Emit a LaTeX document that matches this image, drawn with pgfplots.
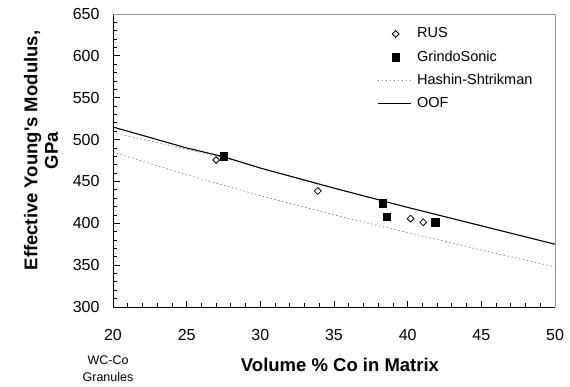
\documentclass[border=0pt]{standalone}
\usepackage{pgfplots}
\pgfplotsset{compat=1.18}
\usepackage{fontspec}
\setmainfont{Liberation Sans}
\definecolor{hsgray}{RGB}{128,128,128}
\definecolor{framegray}{RGB}{150,150,150}
\pgfplotsset{
  marklegend/.style={legend image code/.code={\draw[##1] plot coordinates {(18pt,0pt)};}},
  linelegend/.style={legend image code/.code={\draw[##1] (0pt,0pt) -- (33pt,0pt);}},
}
\begin{document}
\begin{tikzpicture}
\path[use as bounding box] (0,0) rectangle (570pt,386pt);
\begin{axis}[
  at={(113pt,79pt)}, anchor=south west,
  scale only axis, width=442pt, height=293pt,
  xmin=20, xmax=50, ymin=300, ymax=650,
  axis lines*=left,
  axis line style={black, line width=0.9pt},
  xtick={20,25,...,50}, ytick={300,350,...,650},
  minor x tick num=4, minor y tick num=4,
  tick align=inside,
  major tick length=6.5pt, minor tick length=4pt,
  tick style={black, line width=0.8pt},
  /pgf/number format/assume math mode=true,
  ticklabel style={font=\fontsize{16}{18}\selectfont},
  xticklabel style={yshift=-19pt},
  yticklabel style={xshift=-10pt},
  every axis y label/.style={at={(axis description cs:-0.163,0.534)}, rotate=90, anchor=center, align=center, font=\fontsize{18.5}{20.5}\selectfont\bfseries},
  every axis x label/.style={at={(axis description cs:0.5136,-0.198)}, anchor=center, font=\fontsize{18.5}{22}\selectfont\bfseries},
  ylabel={Effective Young\textquotesingle s Modulus,\\GPa},
  xlabel={Volume \% Co in Matrix},
  legend style={draw=none, fill=none, at={(axis description cs:0.597,0.9556)}, anchor=north west,
    inner sep=0pt, row sep=9.8pt, column sep=6pt,
    nodes={inner sep=0pt, text height=10.5pt, text depth=3pt},
    font=\fontsize{14.5}{17}\selectfont},
  legend cell align=left,
  clip=false,
]
\draw[framegray, line width=0.9pt] (rel axis cs:0,1) -- (rel axis cs:1,1) -- (rel axis cs:1,0);

% Hashin-Shtrikman upper bound
\addplot[forget plot, hsgray, line width=0.7pt, dash pattern=on 1.5pt off 2.5pt] coordinates {
(20,508) (22.5,498.5) (25,488.5) (27.5,478.5) (30,466) (35,442) (40,419) (45,397) (50,375)};
% Hashin-Shtrikman lower bound
\addplot[forget plot, hsgray, line width=0.7pt, dash pattern=on 1.5pt off 2.5pt] coordinates {
(20,485) (25,458) (30,433) (35,410) (40,389) (45,368) (50,348)};
% OOF
\addplot[forget plot, black, line width=1.1pt] coordinates {
(20,515) (25,490) (27.5,479.5) (30,466) (35,442) (40,419) (45,397) (50,375)};
% RUS
\addplot[forget plot, only marks, mark=square, mark size=2.4pt, mark options={rotate=45, fill=white, draw=black, line width=0.8pt}] coordinates {
(27.0,475.6) (33.9,438.6) (40.2,405.5) (41.06,401.2)};
% GrindoSonic
\addplot[forget plot, only marks, mark=square*, mark size=3.8pt, mark options={fill=black, draw=black}] coordinates {
(27.5,480.4) (38.3,423.9) (38.58,407.9) (41.86,401.2)};

\addlegendimage{only marks, mark=square, mark size=2.4pt, mark options={rotate=45, fill=white, draw=black, line width=0.8pt}, marklegend}
\addlegendentry{RUS}
\addlegendimage{only marks, mark=square*, mark size=3.8pt, mark options={fill=black, draw=black}, marklegend}
\addlegendentry{GrindoSonic}
\addlegendimage{hsgray, line width=0.7pt, dash pattern=on 1.5pt off 2.5pt, linelegend}
\addlegendentry{Hashin-Shtrikman}
\addlegendimage{black, line width=1.1pt, linelegend}
\addlegendentry{OOF}

\node[align=center, font=\fontsize{12.5}{17}\selectfont] at (axis description cs:-0.0113,-0.2116) {WC-Co\\Granules};
\end{axis}
\end{tikzpicture}
\end{document}
